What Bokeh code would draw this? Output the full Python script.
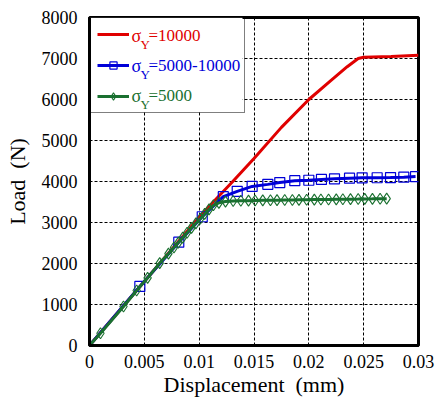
from bokeh.plotting import figure
from bokeh.models import (Range1d, FixedTicker, CustomJSTickFormatter, Legend,
                          LegendItem, Label, BoxAnnotation)
from bokeh.embed import file_html
from bokeh.resources import INLINE

# Load-displacement curves for three yield-stress settings
red_x = [0, 0.005, 0.0100, 0.0110, 0.0130, 0.0150, 0.0175, 0.0200, 0.0220,
         0.0235, 0.0245, 0.0250, 0.0275, 0.0300]
red_y = [0, 1560, 3130, 3420, 3980, 4560, 5320, 6000, 6460, 6800, 7000,
         7030, 7050, 7080]

blue_x = [0, 0.00459, 0.00814, 0.01028, 0.0122, 0.01347, 0.01483, 0.01626,
          0.01735, 0.01872, 0.0200, 0.02115, 0.02234, 0.02371, 0.02486,
          0.02623, 0.02745, 0.02866, 0.02973]
blue_y = [0, 1440, 2520, 3140, 3630, 3760, 3880, 3930, 3975, 4020, 4030,
          4050, 4065, 4080, 4090, 4092, 4095, 4105, 4120]

green_x = [0, 0.0010, 0.0031, 0.0043, 0.0053, 0.0064, 0.0072, 0.0077,
           0.0081, 0.0085, 0.0089, 0.0093, 0.0097, 0.0101, 0.0105, 0.0109,
           0.0113, 0.0118, 0.0124, 0.0131, 0.0138, 0.0145, 0.0151, 0.0158,
           0.0165, 0.0171, 0.0178, 0.0185, 0.0191, 0.0198, 0.0205, 0.0211,
           0.0218, 0.0225, 0.0231, 0.0238, 0.0245, 0.0251, 0.0258, 0.0265,
           0.0271]
green_y = [0, 300, 950, 1340, 1650, 2010, 2240, 2390, 2510, 2630, 2750,
           2870, 2980, 3090, 3210, 3320, 3420, 3480, 3510, 3525, 3530, 3533,
           3537, 3540, 3542, 3545, 3548, 3550, 3553, 3555, 3558, 3560, 3562,
           3565, 3567, 3570, 3572, 3575, 3577, 3580, 3582]

x_ticks = [0, 0.005, 0.01, 0.015, 0.02, 0.025, 0.03]
y_ticks = [0, 1000, 2000, 3000, 4000, 5000, 6000, 7000, 8000]

RED = "#e00000"
BLUE = "#0000d8"
GREEN = "#1a7030"
SERIF = "Liberation Serif"

p = figure(width=438, height=399, output_backend="svg", toolbar_location=None,
           x_range=Range1d(0, 0.03), y_range=Range1d(0, 8000),
           min_border_left=89, min_border_right=20, min_border_top=17,
           min_border_bottom=54)

p.background_fill_color = "white"
p.border_fill_color = "white"
p.outline_line_color = "black"
p.outline_line_width = 3

for ax in (p.xaxis[0], p.yaxis[0]):
    ax.axis_line_width = 3
    ax.axis_line_color = "black"
    ax.major_tick_line_color = None
    ax.minor_tick_line_color = None
    ax.major_label_text_font = SERIF
    ax.major_label_text_font_size = "18px"
    ax.major_label_text_color = "black"
    ax.axis_label_text_font = SERIF
    ax.axis_label_text_font_size = "22px"
    ax.axis_label_text_font_style = "normal"
    ax.axis_label_text_color = "black"

p.xaxis.ticker = FixedTicker(ticks=x_ticks)
p.yaxis.ticker = FixedTicker(ticks=y_ticks)
p.xaxis.formatter = CustomJSTickFormatter(
    code="return tick.toFixed(3).replace(/0+$/, '').replace(/\\.$/, '');")
p.xaxis.major_label_standoff = 3
p.yaxis.major_label_standoff = 6
p.xaxis.axis_label = "Displacement\u00a0 (mm)"
p.yaxis.axis_label = "Load\u00a0 (N)"
p.xaxis.axis_label_standoff = 1
p.yaxis.axis_label_standoff = 9

for g in (p.xgrid[0], p.ygrid[0]):
    g.grid_line_color = "black"
    g.grid_line_dash = "3 2"
    g.grid_line_width = 1

# white backing for the legend panel, drawn over the grid
p.add_layout(BoxAnnotation(left=0, right=153, top=328, bottom=234,
                           left_units="screen", right_units="screen",
                           top_units="screen", bottom_units="screen",
                           fill_color="white", fill_alpha=1,
                           line_color=None, level="underlay"))

r_red = p.line(red_x, red_y, line_color=RED, line_width=3)
l_blue = p.line(blue_x, blue_y, line_color=BLUE, line_width=3)
s_blue = p.scatter(blue_x[1:], blue_y[1:], marker="square", size=10,
                   line_color=BLUE, fill_color=None, line_width=1.2)
l_green = p.line(green_x, green_y, line_color=GREEN, line_width=3)
s_green = p.scatter(green_x[1:], green_y[1:], marker="diamond", size=11,
                    line_color=GREEN, fill_color=None, line_width=1.1)

legend = Legend(items=[
    LegendItem(label=" ", renderers=[r_red]),
    LegendItem(label=" ", renderers=[l_blue, s_blue]),
    LegendItem(label=" ", renderers=[l_green, s_green]),
], location="top_left")
legend.margin = 0
legend.padding = 7
legend.glyph_width = 32
legend.glyph_height = 18
legend.spacing = 13
legend.label_standoff = 0
legend.label_width = 108
legend.border_line_color = "black"
legend.border_line_width = 1.5
legend.background_fill_alpha = 0
p.add_layout(legend)

# legend texts with a subscript Y (positions in pixels from the frame's
# bottom-left corner)
names = ["=10000", "=5000-10000", "=5000"]
colors = [RED, BLUE, GREEN]
rows = [310, 280, 250]
for name, col, yc in zip(names, colors, rows):
    p.add_layout(Label(x=42, y=yc, x_units="screen", y_units="screen",
                       text="σ", text_color=col, text_font=SERIF,
                       text_font_size="18px", text_baseline="middle"))
    p.add_layout(Label(x=51, y=yc - 9, x_units="screen", y_units="screen",
                       text="Y", text_color=col, text_font=SERIF,
                       text_font_size="13px", text_baseline="middle"))
    p.add_layout(Label(x=59, y=yc, x_units="screen", y_units="screen",
                       text=name, text_color=col, text_font=SERIF,
                       text_font_size="17px", text_baseline="middle"))

open("out.html", "w").write(file_html(p, INLINE))
